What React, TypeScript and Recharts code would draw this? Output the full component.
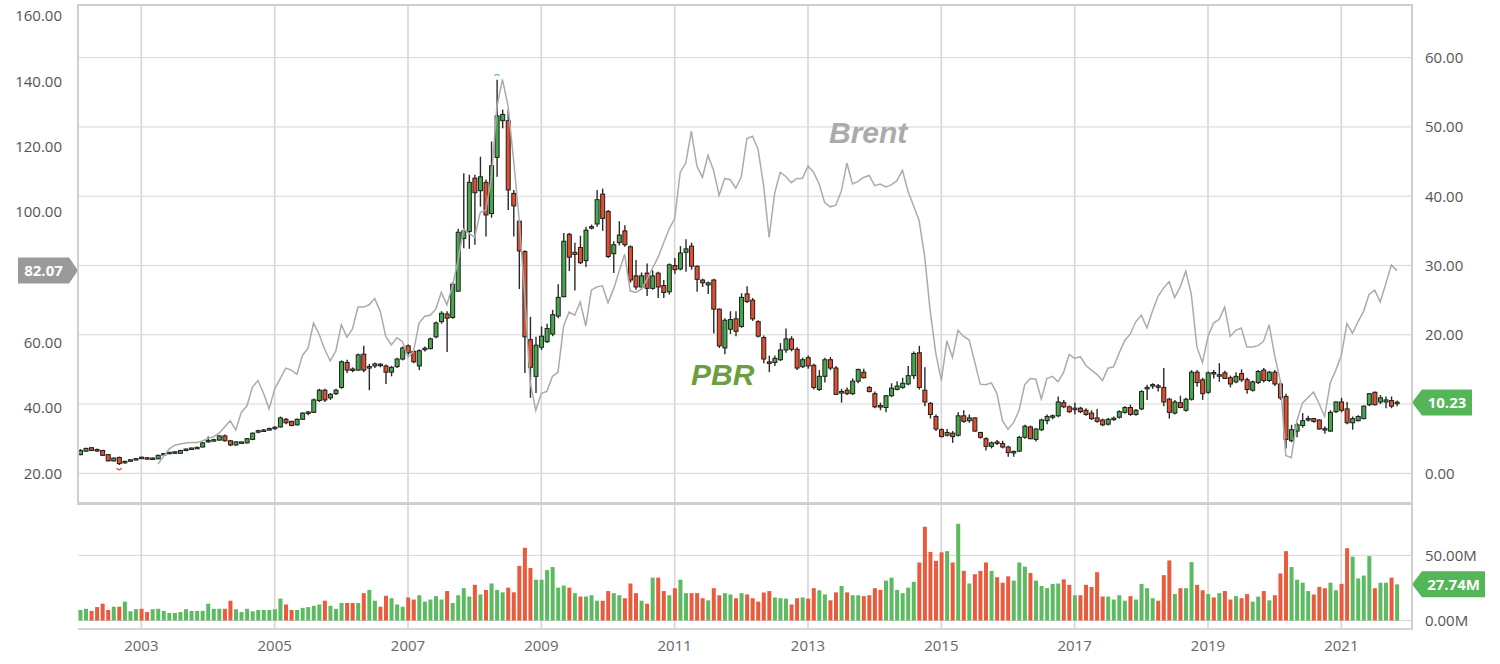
import { Bar, CartesianGrid, Cell, ComposedChart, Line, ReferenceDot, ReferenceLine, XAxis, YAxis } from 'recharts'

// first candle is February 2002, one candle per month
const START_YEAR = 2002
const START_MONTH = 2

// PBR monthly candles: [open, high, low, close]
const pbrCandles: [number, number, number, number][] = [
  // 2002
  [2.7, 3.5, 2.6, 3.3], [3.2, 3.7, 3.1, 3.6], [3.7, 3.8, 3.2, 3.3], [3.35, 3.6, 3.1, 3.3], [3.3, 3.4, 2.5, 2.6], [2.7, 2.8, 1.7, 1.8],
  [1.8, 2.3, 1.7, 2.2], [2.3, 2.4, 1.2, 1.4], [1.55, 1.8, 1.4, 1.7], [1.8, 2.0, 1.7, 1.9], [1.95, 2.2, 1.9, 2.1],
  // 2003
  [2.25, 2.4, 2.1, 2.2], [2.2, 2.3, 2.0, 2.1], [2.05, 2.3, 2.0, 2.15], [2.1, 2.7, 2.05, 2.6], [2.65, 2.95, 2.6, 2.85], [2.85, 3.1, 2.8, 3.0],
  [2.95, 3.2, 2.8, 3.05], [2.9, 3.4, 2.85, 3.3], [3.3, 3.6, 3.2, 3.5], [3.5, 3.7, 3.4, 3.6], [3.6, 3.85, 3.5, 3.7], [3.8, 4.5, 3.75, 4.4],
  // 2004
  [4.6, 5.3, 4.4, 4.7], [4.7, 5.0, 4.6, 4.8], [4.8, 5.5, 4.7, 5.4], [5.4, 5.6, 4.6, 4.7], [4.7, 4.8, 3.9, 4.1], [4.1, 4.6, 4.0, 4.55],
  [4.4, 4.6, 4.3, 4.45], [4.4, 5.1, 4.3, 5.0], [4.9, 5.9, 4.8, 5.8], [6.0, 6.3, 5.8, 6.1], [6.1, 6.4, 6.0, 6.2], [6.3, 6.6, 6.2, 6.4],
  // 2005
  [6.5, 6.8, 6.3, 6.6], [6.7, 8.2, 6.6, 8.0], [7.8, 8.0, 7.1, 7.3], [7.5, 7.6, 6.8, 6.9], [7.0, 7.9, 6.9, 7.8], [7.8, 8.8, 7.7, 8.7],
  [8.7, 9.0, 8.4, 8.8], [8.8, 10.8, 8.7, 10.6], [10.5, 12.2, 10.3, 12.0], [12.0, 12.2, 10.3, 10.6], [10.9, 11.6, 10.6, 11.4], [11.5, 12.2, 11.3, 12.0],
  // 2006
  [12.4, 16.3, 12.2, 16.1], [16.0, 16.4, 14.5, 14.9], [15.0, 15.3, 14.6, 14.9], [14.9, 17.3, 14.8, 17.1], [17.2, 18.4, 14.6, 14.9], [15.2, 15.8, 12.0, 15.4],
  [15.5, 16.0, 15.2, 15.8], [15.7, 15.9, 15.3, 15.6], [15.5, 15.7, 12.9, 14.6], [14.6, 15.5, 14.0, 15.3], [15.4, 16.7, 15.2, 16.5], [16.5, 18.3, 16.3, 18.1],
  // 2007
  [18.4, 18.6, 17.1, 17.4], [17.6, 17.8, 15.9, 16.1], [15.5, 17.9, 14.9, 17.7], [17.9, 18.3, 17.6, 18.0], [18.0, 19.6, 17.9, 19.4], [19.7, 21.9, 19.5, 21.7],
  [21.9, 23.4, 21.6, 23.1], [23.0, 23.4, 17.5, 22.4], [22.5, 27.6, 22.3, 27.3], [26.3, 35.3, 26.2, 34.8], [33.9, 43.3, 32.5, 35.0], [34.9, 43.1, 32.4, 42.0],
  // 2008
  [42.6, 43.1, 33.0, 40.5], [40.8, 45.7, 38.5, 42.8], [42.0, 42.4, 34.2, 37.3], [37.5, 47.9, 36.9, 44.4], [45.6, 56.8, 42.8, 51.6], [50.9, 52.5, 49.8, 51.8],
  [50.9, 52.5, 38.0, 40.9], [40.4, 40.9, 34.2, 38.6], [36.4, 36.6, 26.6, 32.1], [32.0, 32.2, 14.5, 19.7], [19.3, 22.6, 10.9, 15.3], [14.0, 19.7, 11.6, 18.5],
  // 2009
  [18.2, 21.2, 17.8, 19.8], [19.0, 21.6, 18.8, 20.9], [20.1, 23.6, 19.8, 22.9], [22.7, 27.3, 22.4, 25.4], [25.5, 34.7, 25.4, 33.5], [34.5, 34.7, 29.2, 31.2],
  [31.6, 33.3, 26.4, 31.9], [32.6, 34.3, 30.2, 30.4], [30.7, 35.6, 29.8, 35.1], [35.4, 35.9, 35.2, 35.6], [36.0, 40.9, 35.6, 39.5], [40.3, 41.1, 35.0, 36.8],
  // 2010
  [37.8, 38.0, 31.1, 31.3], [31.7, 33.5, 28.9, 33.0], [33.3, 36.4, 32.9, 34.4], [35.0, 35.8, 32.7, 33.0], [32.7, 32.9, 27.5, 27.9], [28.5, 30.8, 26.5, 26.9],
  [26.9, 29.0, 26.5, 28.5], [28.9, 30.3, 25.6, 26.7], [26.7, 29.3, 26.5, 28.5], [28.9, 29.1, 25.3, 26.9], [27.1, 27.9, 25.3, 26.1], [26.2, 30.3, 25.8, 30.1],
  // 2011
  [30.0, 31.1, 28.8, 29.4], [29.5, 32.8, 29.3, 31.8], [31.9, 33.8, 29.1, 32.4], [32.8, 33.3, 29.4, 29.9], [29.9, 30.0, 26.2, 28.0], [27.9, 28.1, 26.9, 27.5],
  [27.2, 27.7, 25.9, 27.5], [27.9, 28.1, 20.2, 23.7], [23.7, 23.8, 18.1, 18.4], [18.1, 22.4, 17.2, 22.1], [20.8, 23.4, 20.1, 22.2], [22.3, 23.4, 19.8, 20.5],
  // 2012
  [21.2, 26.0, 21.0, 25.4], [25.9, 27.0, 24.6, 24.8], [25.0, 25.3, 22.0, 22.3], [21.9, 22.1, 19.6, 19.8], [19.6, 19.9, 15.9, 16.5], [16.05, 17.0, 14.6, 15.9],
  [16.0, 17.0, 15.5, 16.6], [16.4, 18.8, 16.2, 17.8], [17.8, 20.9, 17.4, 19.4], [19.4, 19.8, 17.6, 17.9], [17.9, 18.2, 14.9, 15.2], [15.4, 16.7, 15.2, 16.4],
  // 2013
  [16.7, 17.0, 15.1, 15.5], [15.6, 15.8, 12.1, 12.4], [12.1, 14.9, 11.9, 14.0], [14.0, 16.7, 13.1, 16.4], [16.4, 16.8, 14.9, 15.2], [15.2, 15.5, 11.3, 11.4],
  [11.6, 12.2, 10.2, 11.8], [12.0, 12.4, 11.3, 11.5], [11.5, 13.7, 11.3, 13.3], [13.3, 15.1, 13.0, 15.0], [14.6, 15.1, 13.7, 13.8], [12.4, 12.6, 11.7, 11.8],
  // 2014
  [11.5, 11.8, 9.4, 9.6], [9.75, 10.2, 9.1, 9.6], [9.5, 11.3, 8.8, 11.2], [11.2, 13.0, 11.0, 12.3], [12.1, 13.3, 12.0, 12.6], [12.4, 13.8, 12.2, 13.0],
  [12.9, 15.5, 12.7, 14.1], [14.1, 17.6, 13.6, 17.3], [17.4, 18.4, 12.1, 12.4], [12.0, 15.3, 9.7, 10.3], [10.1, 10.3, 7.9, 8.5], [8.2, 8.5, 6.1, 6.4],
  // 2015
  [6.3, 6.5, 5.2, 5.3], [5.5, 6.4, 5.3, 5.9], [5.8, 6.1, 4.4, 5.3], [5.5, 8.8, 5.3, 8.3], [8.3, 9.1, 7.3, 7.5], [7.6, 8.5, 7.3, 8.0],
  [8.0, 8.1, 6.0, 6.1], [5.9, 6.0, 5.0, 5.2], [5.0, 5.2, 3.3, 3.9], [3.9, 4.6, 3.6, 4.4], [4.45, 4.8, 4.1, 4.4], [4.3, 4.7, 3.6, 3.8],
  // 2016
  [3.8, 4.0, 2.4, 3.0], [3.0, 3.3, 2.4, 3.1], [3.2, 5.4, 3.1, 5.2], [5.2, 7.0, 5.0, 6.8], [6.7, 6.9, 4.9, 5.0], [4.9, 6.5, 4.6, 6.4],
  [6.3, 7.9, 6.1, 7.7], [7.6, 8.5, 7.1, 8.2], [8.1, 8.5, 7.8, 8.3], [8.3, 11.1, 8.1, 10.3], [10.2, 10.6, 9.4, 9.6], [9.6, 9.8, 8.7, 8.9],
  // 2017
  [9.2, 10.2, 8.5, 9.4], [9.4, 9.6, 8.7, 8.9], [9.1, 9.4, 8.3, 8.5], [8.7, 9.1, 7.7, 7.9], [8.0, 9.3, 7.3, 7.5], [7.7, 7.9, 6.8, 7.0],
  [7.1, 8.0, 6.9, 7.8], [7.8, 8.2, 7.6, 7.9], [8.1, 9.1, 7.9, 8.9], [8.8, 9.7, 8.6, 9.5], [9.5, 9.9, 8.3, 8.5], [8.5, 9.3, 8.3, 9.1],
  // 2018
  [9.3, 12.0, 9.1, 11.8], [12.2, 12.8, 10.6, 12.4], [12.6, 13.0, 12.2, 12.8], [12.55, 12.9, 11.8, 12.5], [12.4, 15.2, 9.7, 10.3], [10.7, 10.9, 7.9, 8.8],
  [8.7, 10.6, 8.5, 10.3], [10.2, 11.2, 9.4, 9.5], [9.1, 10.9, 8.9, 10.7], [10.7, 14.9, 10.5, 14.6], [14.6, 14.9, 12.5, 13.1], [13.5, 13.8, 10.6, 11.5],
  // 2019
  [11.7, 14.7, 11.5, 14.5], [14.5, 14.9, 13.7, 14.4], [14.1, 15.9, 13.2, 14.15], [14.5, 14.8, 13.6, 13.7], [13.8, 14.1, 12.4, 12.9], [13.2, 14.6, 13.0, 14.0],
  [14.4, 15.0, 13.2, 13.5], [13.5, 13.8, 11.5, 12.1], [12.0, 13.4, 11.8, 13.2], [13.1, 14.9, 12.9, 14.7], [14.9, 15.2, 13.1, 13.4], [13.4, 14.8, 13.2, 14.6],
  // 2020
  [14.6, 14.9, 12.6, 12.9], [12.9, 13.3, 10.6, 10.9], [11.1, 11.5, 3.6, 4.9], [4.7, 7.0, 4.5, 6.3], [6.1, 7.3, 5.2, 7.0], [6.9, 8.7, 6.6, 7.6],
  [7.7, 8.3, 7.5, 7.9], [7.9, 8.0, 7.3, 7.5], [7.7, 7.8, 6.3, 6.4], [6.4, 6.8, 5.7, 6.3], [6.1, 9.1, 6.0, 8.8], [8.9, 10.4, 8.7, 10.3],
  // 2021
  [10.3, 10.9, 8.8, 9.1], [9.3, 10.3, 7.1, 7.3], [7.3, 8.2, 6.3, 7.9], [7.6, 8.4, 7.5, 8.2], [7.9, 9.8, 7.8, 9.7], [9.9, 11.6, 9.7, 11.5],
  [11.7, 11.8, 9.8, 9.9], [10.3, 11.3, 10.0, 10.9], [10.3, 11.1, 9.4, 10.6], [10.5, 11.1, 9.4, 9.7], [10.1, 10.5, 9.7, 10.23],
]

// PBR monthly volume, millions
const volumeM = [
  8.1, 9.0, 7.4, 10.3, 12.9, 8.1, 10.6, 10.6, 14.5, 7.1, 8.7,
  9.0, 6.5, 8.7, 9.0, 7.4, 5.8, 5.8, 6.5, 8.7, 7.4, 7.4, 7.4,
  12.9, 9.0, 9.0, 9.0, 15.2, 8.7, 6.5, 9.0, 7.1, 8.1, 8.1, 8.1,
  8.7, 16.8, 12.3, 8.1, 8.1, 9.7, 10.3, 11.3, 12.3, 15.2, 11.3, 9.0,
  13.5, 13.5, 13.5, 13.5, 21.0, 23.5, 15.2, 10.6, 19.0, 17.1, 12.3, 10.6,
  17.7, 16.1, 19.4, 14.5, 16.1, 18.7, 16.1, 22.6, 13.5, 19.4, 24.8, 18.4,
  27.4, 20.0, 23.5, 28.4, 23.5, 21.6, 25.2, 21.6, 41.9, 55.8, 40.3, 31.3,
  31.3, 38.7, 41.0, 25.2, 26.8, 25.2, 21.0, 18.4, 18.4, 19.4, 15.2, 15.2,
  22.6, 21.0, 19.4, 17.1, 28.4, 21.0, 15.2, 12.9, 32.9, 32.9, 22.6, 19.4,
  24.8, 31.3, 21.0, 21.0, 21.0, 17.1, 15.5, 24.8, 19.4, 21.0, 20.0, 17.1,
  21.0, 20.0, 17.1, 14.5, 21.5, 22.6, 17.7, 17.1, 16.8, 12.3, 17.1, 17.7,
  16.8, 24.8, 23.2, 20.0, 15.5, 21.6, 26.5, 21.6, 19.4, 19.4, 18.7, 19.4,
  24.8, 23.5, 30.6, 32.9, 23.5, 21.0, 25.2, 29.7, 44.5, 71.9, 52.6, 45.8,
  52.3, 53.2, 44.5, 74.2, 38.1, 28.4, 35.5, 38.1, 44.5, 38.1, 33.2, 29.0,
  33.9, 30.6, 44.5, 41.3, 36.5, 30.6, 26.5, 24.8, 28.1, 28.4, 31.6, 27.4,
  19.4, 19.4, 27.4, 25.8, 37.1, 18.4, 18.4, 16.1, 19.4, 15.2, 18.7, 16.1,
  28.1, 24.8, 17.1, 15.2, 34.8, 46.1, 20.3, 24.8, 24.8, 44.8, 27.4, 23.2,
  20.3, 17.7, 21.0, 22.6, 16.1, 18.7, 17.1, 20.3, 14.5, 18.4, 22.6, 15.5,
  19.4, 36.1, 53.2, 41.0, 31.3, 29.0, 22.6, 20.0, 25.8, 24.8, 29.0, 23.2,
  28.1, 55.5, 49.0, 32.3, 34.5, 49.4, 24.8, 29.0, 29.0, 32.9, 27.74,
]

// Brent monthly, starts April 2003
const brent: (number | null)[] = [
  null, null, null, null, null, null, null, null, null, null, null,
  null, null, null, 22.8, 25.2, 27.4, 28.6, 29.0, 29.3, 29.4, 29.4, 29.9,
  30.7, 31.2, 32.3, 34.2, 36.1, 33.3, 38.7, 40.6, 46.4, 48.4, 44.5, 39.7,
  45.8, 49.0, 52.2, 51.6, 50.3, 56.1, 58.3, 66.0, 62.6, 58.0, 54.4, 57.4,
  65.5, 61.7, 64.2, 70.9, 70.9, 71.6, 73.5, 69.6, 61.9, 59.3, 61.5, 60.4,
  55.5, 57.4, 66.0, 68.1, 68.4, 70.3, 75.4, 71.6, 77.4, 85.1, 94.8, 93.5,
  92.2, 99.9, 100.6, 110.3, 132.2, 140.6, 132.6, 116.1, 98.0, 74.8, 47.7, 39.3,
  44.5, 45.1, 49.7, 50.9, 65.1, 69.4, 68.4, 72.5, 65.1, 76.1, 77.1, 77.4,
  72.2, 76.4, 81.9, 87.1, 75.8, 75.4, 76.4, 79.3, 82.8, 86.1, 90.5, 94.8,
  98.0, 112.2, 115.0, 124.8, 114.1, 110.6, 117.4, 112.8, 105.1, 110.3, 109.9, 107.3,
  110.9, 122.5, 123.2, 119.3, 108.3, 92.2, 105.8, 112.2, 110.9, 109.0, 110.3, 110.3,
  114.1, 112.2, 108.6, 102.9, 101.6, 102.1, 106.4, 115.0, 108.6, 109.4, 110.6, 111.2,
  108.1, 108.6, 107.7, 108.3, 109.6, 112.8, 106.4, 101.9, 97.4, 86.4, 69.6, 56.8,
  48.4, 60.6, 55.5, 63.8, 61.9, 60.9, 54.2, 47.3, 47.1, 47.7, 44.5, 36.1,
  33.5, 35.5, 39.3, 47.1, 49.0, 48.8, 42.8, 49.0, 49.7, 48.0, 50.9, 56.4,
  55.2, 55.7, 53.1, 51.6, 50.3, 48.4, 52.2, 52.6, 56.8, 60.6, 62.6, 66.4,
  68.4, 64.5, 69.6, 74.2, 76.7, 78.7, 73.8, 77.1, 81.9, 74.8, 58.7, 53.9,
  61.9, 66.0, 67.1, 70.9, 61.9, 63.8, 64.5, 58.7, 58.7, 59.1, 60.4, 65.5,
  56.1, 48.4, 25.5, 24.8, 36.1, 41.5, 43.2, 44.9, 41.3, 37.4, 47.7, 51.6,
  56.1, 65.8, 62.9, 66.4, 69.6, 74.8, 76.1, 72.5, 78.0, 83.8, 82.07,
]

const yearTicks = [2003, 2005, 2007, 2009, 2011, 2013, 2015, 2017, 2019, 2021]
const brentTicks = [20, 40, 60, 100, 120, 140, 160]
const pbrTicks = [0, 20, 30, 40, 50, 60]
const pbrGridValues = [0, 10, 20, 30, 40, 50, 60]
const volTicks = [0, 50]

const LAST_BRENT = 82.07
const LAST_PBR = 10.23
const LAST_VOL = 27.74

const GREEN = '#47a84b'
const RED = '#e0502f'
const VOL_GREEN = '#5cbb60'
const VOL_RED = '#ea5a3d'
const TAG_GREEN = '#55b559'
const X_DOMAIN: [number, number] = [2002.05, 2022.06]

const data = pbrCandles.map(([open, high, low, close], i) => {
  const m = START_MONTH - 1 + i
  const year = START_YEAR + Math.floor(m / 12)
  return {
    t: year + (m % 12) / 12,
    open,
    high,
    low,
    close,
    range: [low, high],
    volume: volumeM[i],
    brent: brent[i],
  }
})

// all-time high / low candles get a small marker
const highest = data.reduce((a, b) => (b.high > a.high ? b : a))
const lowest = data.reduce((a, b) => (b.low < a.low ? b : a))

const tickStyle = { fill: '#555', fontSize: 15, fontFamily: '"Open Sans", sans-serif' }

function Candle(props: any) {
  const { x, y, width, height, payload } = props
  if (x == null || y == null) return null
  const { open, high, low, close } = payload
  const top = Math.min(y, y + height)
  const h = Math.abs(height)
  const k = high === low ? 0 : h / (high - low)
  const cx = x + width / 2
  const bodyTop = top + (high - Math.max(open, close)) * k
  let bodyH = Math.abs(open - close) * k
  let by = bodyTop
  if (bodyH < 1.5) {
    by = bodyTop - (1.5 - bodyH) / 2
    bodyH = 1.5
  }
  const up = close >= open
  return (
    <g>
      <line x1={cx} x2={cx} y1={top} y2={top + h} stroke="#2a2a2a" strokeWidth={1.4} />
      <rect x={cx - 2} y={by} width={4} height={bodyH} fill={up ? GREEN : RED} stroke="#1e1e1e" strokeWidth={1} />
    </g>
  )
}

function HighMark(props: any) {
  const { cx, cy } = props
  if (cx == null || cy == null) return null
  return <path d={`M${cx - 2.5},${cy - 4} Q${cx},${cy - 7} ${cx + 2.5},${cy - 4}`} fill="none" stroke="#5cc46a" strokeWidth={1.3} />
}

function LowMark(props: any) {
  const { cx, cy } = props
  if (cx == null || cy == null) return null
  return <path d={`M${cx - 2.5},${cy + 3} Q${cx},${cy + 6.5} ${cx + 2.5},${cy + 3}`} fill="none" stroke="#e8553a" strokeWidth={1.3} />
}

function Tag(props: any) {
  const { viewBox, side, text, fill, boxWidth } = props
  if (!viewBox) return null
  const yc = viewBox.y
  const hh = 13
  let pts: string
  let tx: number
  if (side === 'left') {
    const tip = viewBox.x
    const left = tip - 60
    pts = `${left},${yc - hh} ${tip - 9},${yc - hh} ${tip},${yc} ${tip - 9},${yc + hh} ${left},${yc + hh}`
    tx = (left + tip - 9) / 2
  } else {
    const tip = viewBox.x + viewBox.width
    const right = tip + boxWidth
    pts = `${tip},${yc} ${tip + 10},${yc - hh} ${right},${yc - hh} ${right},${yc + hh} ${tip + 10},${yc + hh}`
    tx = (tip + 10 + right) / 2
  }
  return (
    <g>
      <polygon points={pts} fill={fill} />
      <text x={tx} y={yc} dy="0.35em" textAnchor="middle" fill="#fff" fontSize={15} fontWeight="bold"
        fontFamily='"Open Sans", sans-serif'>{text}</text>
    </g>
  )
}

const line = (style: React.CSSProperties) => (
  <div style={{ position: 'absolute', background: '#cfcfcf', ...style }} />
)

export default function App() {
  return (
    <div style={{ position: 'absolute', left: 0, top: 0, width: 1500, height: 664, background: '#fff', overflow: 'hidden' }}>
      <div style={{ position: 'absolute', left: 0, top: 0 }}>
        <ComposedChart width={1500} height={505} data={data} margin={{ top: 5, right: 0, bottom: 0, left: 0 }}>
          <CartesianGrid yAxisId="right" vertical={false} horizontalValues={pbrGridValues} stroke="#d6d6d6" strokeWidth={1} />
          <CartesianGrid yAxisId="right" horizontal={false} verticalValues={yearTicks} stroke="#d6d6d6" strokeWidth={1.6} />
          <XAxis dataKey="t" type="number" domain={X_DOMAIN} allowDataOverflow hide />
          <YAxis yAxisId="left" orientation="left" width={78} domain={[10.3, 163.4]} ticks={brentTicks}
            allowDataOverflow axisLine={false} tickLine={false} tickSize={0} tickMargin={16}
            tickFormatter={(v: number) => v.toFixed(2)} tick={tickStyle} />
          <YAxis yAxisId="right" orientation="right" width={88} domain={[-4.57, 67.6]} ticks={pbrTicks}
            allowDataOverflow axisLine={false} tickLine={false} tickSize={0} tickMargin={13}
            tickFormatter={(v: number) => v.toFixed(2)} tick={tickStyle} />
          <Line yAxisId="left" dataKey="brent" type="linear" stroke="#ababab" strokeWidth={1.5} dot={false}
            activeDot={false} isAnimationActive={false} />
          <Bar yAxisId="right" dataKey="range" barSize={4} shape={<Candle />} isAnimationActive={false} />
          <ReferenceDot yAxisId="right" x={highest.t} y={highest.high} shape={<HighMark />} />
          <ReferenceDot yAxisId="right" x={lowest.t} y={lowest.low} shape={<LowMark />} />
          <ReferenceLine yAxisId="left" y={LAST_BRENT} stroke="none"
            label={<Tag side="left" text={LAST_BRENT.toFixed(2)} fill="#9a9a9a" />} />
          <ReferenceLine yAxisId="right" y={LAST_PBR} stroke="none"
            label={<Tag side="right" text={LAST_PBR.toFixed(2)} fill={TAG_GREEN} boxWidth={60} />} />
        </ComposedChart>
      </div>

      <div style={{ position: 'absolute', left: 0, top: 505 }}>
        <ComposedChart width={1500} height={159} data={data} margin={{ top: 0, right: 0, bottom: 0, left: 78 }}>
          <CartesianGrid yAxisId="vol" vertical={false} horizontalValues={volTicks} stroke="#d6d6d6" strokeWidth={1} />
          <CartesianGrid yAxisId="vol" horizontal={false} verticalValues={yearTicks} stroke="#d6d6d6" strokeWidth={1.6} />
          <XAxis dataKey="t" type="number" domain={X_DOMAIN} allowDataOverflow ticks={yearTicks} height={35}
            axisLine={{ stroke: '#d6d6d6', strokeWidth: 2 }} tickLine={false} tickSize={0} tickMargin={11}
            tick={{ ...tickStyle, fill: '#666' }} />
          <YAxis yAxisId="vol" orientation="right" width={88} domain={[-6.5, 88.6]} ticks={volTicks}
            allowDataOverflow axisLine={false} tickLine={false} tickSize={0} tickMargin={13}
            tickFormatter={(v: number) => `${v.toFixed(2)}M`} tick={tickStyle} />
          <Bar yAxisId="vol" dataKey="volume" barSize={4} isAnimationActive={false}>
            {data.map((d) => (
              <Cell key={d.t} fill={d.close >= d.open ? VOL_GREEN : VOL_RED} />
            ))}
          </Bar>
          <ReferenceLine yAxisId="vol" y={LAST_VOL} stroke="none"
            label={<Tag side="right" text={`${LAST_VOL.toFixed(2)}M`} fill={TAG_GREEN} boxWidth={73} />} />
        </ComposedChart>
      </div>

      {/* panel frames */}
      {line({ left: 77, top: 4, width: 1336, height: 1.5 })}
      {line({ left: 77, top: 4, width: 1.5, height: 500 })}
      {line({ left: 1411, top: 4, width: 1.5, height: 626 })}
      {line({ left: 77, top: 502, width: 1336, height: 2.5 })}

      <div style={{ position: 'absolute', left: 829, top: 115, fontFamily: '"Liberation Sans", Arial, sans-serif',
        fontStyle: 'italic', fontWeight: 'bold', fontSize: 30, lineHeight: '36px', color: '#ababab' }}>Brent</div>
      <div style={{ position: 'absolute', left: 691, top: 357, fontFamily: '"Liberation Sans", Arial, sans-serif',
        fontStyle: 'italic', fontWeight: 'bold', fontSize: 30, lineHeight: '36px', color: '#6a9e3f' }}>PBR</div>
    </div>
  )
}
